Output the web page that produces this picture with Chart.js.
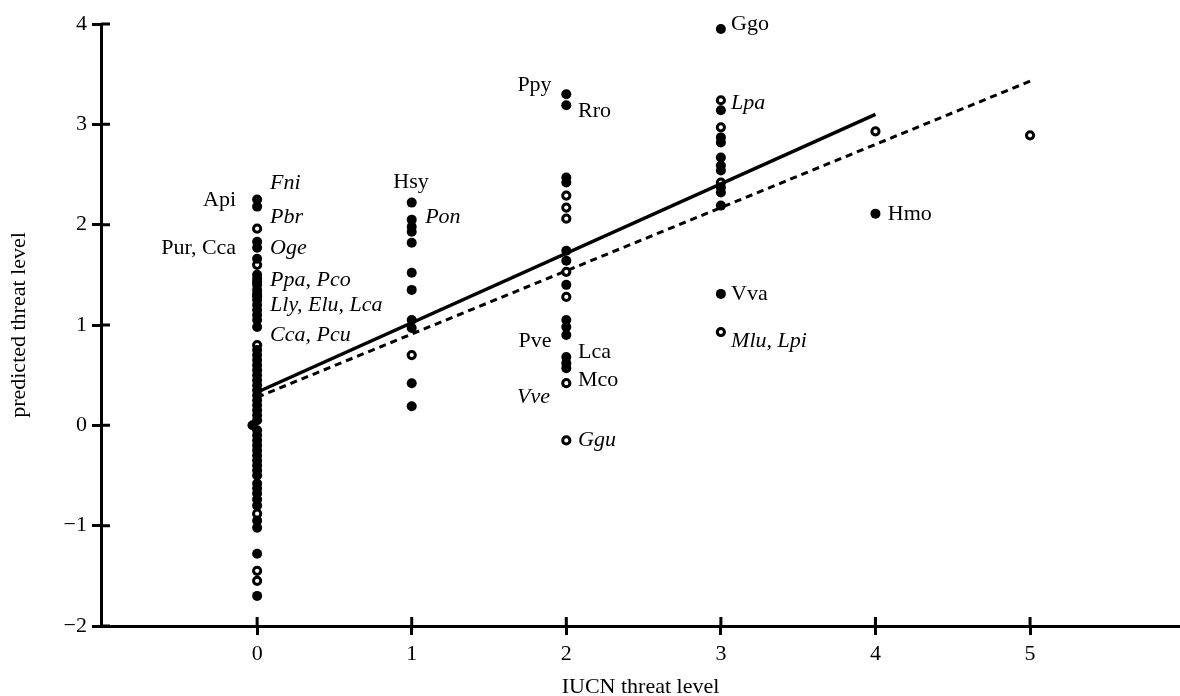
<!DOCTYPE html>
<html>
<head>
<meta charset="utf-8">
<script src="https://cdn.jsdelivr.net/npm/chart.js@4.4.1/dist/chart.umd.min.js"></script>
<style>
  html, body { margin: 0; padding: 0; background: #fff; }
  #wrap { width: 1180px; height: 696px; }
</style>
</head>
<body>
<div id="wrap"><canvas id="myChart" width="1180" height="696"></canvas></div>
<script>
function $(id) {
  return document.getElementById(id);
}

// IUCN threat levels (x categories) and y ticks
const levels = [0, 1, 2, 3, 4, 5];
const yTicks = [-2, -1, 0, 1, 2, 3, 4];

// predicted threat level per IUCN level, filled circles
const filled0 = [2.25, 2.18, 1.83, 1.77, 1.66, 1.50, 1.46, 1.40, 1.35, 1.31, 1.25, 1.20, 1.15, 1.10, 1.05, 0.98,
  0.75, 0.70, 0.65, 0.60, 0.55, 0.50, 0.45, 0.40, 0.35, 0.30, 0.25, 0.20, 0.15, 0.10, 0.05, -0.05, -0.10,
  -0.15, -0.20, -0.25, -0.30, -0.35, -0.40, -0.45, -0.50, -0.58, -0.63, -0.68, -0.74, -0.80, -0.95, -1.02,
  -1.28, -1.70];
const filled1 = [2.22, 2.05, 1.98, 1.93, 1.82, 1.52, 1.35, 1.05, 0.97, 0.42, 0.19];
const filled2 = [3.30, 3.19, 2.47, 2.42, 1.74, 1.64, 1.40, 1.05, 0.98, 0.90, 0.68, 0.62, 0.57];
const filled3 = [3.95, 3.14, 2.87, 2.82, 2.67, 2.59, 2.54, 2.37, 2.32, 2.19, 1.31];
const filled4 = [2.11];
const filled5 = [];

// open circles
const open0 = [1.96, 1.60, 1.43, 1.29, 0.80, -0.88, -1.45, -1.55];
const open1 = [0.70];
const open2 = [2.29, 2.17, 2.06, 1.53, 1.28, 0.42, -0.15];
const open3 = [3.24, 2.97, 2.42, 0.93];
const open4 = [2.93];
const open5 = [2.89];

// fitted lines
const solidX = [0, 4];
const solidY = [0.33, 3.10];
const dashX = [0, 5];
const dashY = [0.28, 3.43];

// species labels
const labelText = ["Api", "Fni", "Pbr", "Pur, Cca", "Oge", "Ppa, Pco", "Lly, Elu, Lca", "Cca, Pcu",
  "Hsy", "Pon", "Ppy", "Rro", "Pve", "Lca", "Mco", "Vve", "Ggu",
  "Ggo", "Lpa", "Vva", "Mlu, Lpi", "Hmo"];
const labelX = [-0.136, 0.084, 0.084, -0.136, 0.084, 0.084, 0.084, 0.084,
  0.996, 1.087, 1.905, 2.076, 1.905, 2.076, 2.076, 1.895, 2.076,
  3.066, 3.066, 3.066, 3.066, 4.08];
const labelY = [2.24, 2.41, 2.07, 1.77, 1.77, 1.45, 1.20, 0.90,
  2.42, 2.07, 3.39, 3.13, 0.84, 0.73, 0.45, 0.28, -0.15,
  4.00, 3.21, 1.31, 0.84, 2.10];
const labelAlign = ["right", "left", "left", "right", "left", "left", "left", "left",
  "center", "left", "right", "left", "right", "left", "left", "right", "left",
  "left", "left", "left", "left", "left"];
const labelItalic = [false, true, true, false, true, true, true, true,
  false, true, false, false, false, false, false, true, true,
  false, true, false, true, false];

const FONT = "'Liberation Serif', 'Times New Roman', serif";

function toPoints(columns) {
  let pts = [];
  columns.forEach((col, i) => {
    col.forEach(v => pts.push({ x: levels[i], y: v }));
  });
  return pts;
}

let filledPts = toPoints([filled0, filled1, filled2, filled3, filled4, filled5]);
filledPts.push({ x: -0.03, y: 0.0 });
let openPts = toPoints([open0, open1, open2, open3, open4, open5]);

// inner half of the axis ticks + species labels
const extras = {
  id: "extras",
  afterDraw(chart) {
    const c = chart.ctx;
    const xs = chart.scales.x;
    const ys = chart.scales.y;
    const area = chart.chartArea;
    c.save();
    c.strokeStyle = "#000";
    c.lineWidth = 3;
    c.beginPath();
    levels.forEach(v => {
      const px = xs.getPixelForValue(v);
      c.moveTo(px, area.bottom);
      c.lineTo(px, area.bottom - 9);
    });
    yTicks.forEach(v => {
      const py = ys.getPixelForValue(v);
      c.moveTo(area.left, py);
      c.lineTo(area.left + 9, py);
    });
    c.stroke();

    c.fillStyle = "#000";
    c.textBaseline = "middle";
    labelText.forEach((t, i) => {
      c.font = (labelItalic[i] ? "italic " : "") + "22px " + FONT;
      c.textAlign = labelAlign[i];
      c.fillText(t, xs.getPixelForValue(labelX[i]), ys.getPixelForValue(labelY[i]));
    });
    c.restore();
  }
};

window.onload = function() {
  const ctx = $("myChart").getContext("2d");
  new Chart(ctx, {
    type: "scatter",
    data: {
      datasets: [{
        data: solidX.map((x, i) => ({ x: x, y: solidY[i] })),
        showLine: true,
        borderColor: "#000",
        borderWidth: 3.5,
        pointRadius: 0
      }, {
        data: dashX.map((x, i) => ({ x: x, y: dashY[i] })),
        showLine: true,
        borderColor: "#000",
        borderWidth: 3,
        borderDash: [7, 5],
        pointRadius: 0
      }, {
        data: filledPts,
        backgroundColor: "#000",
        borderColor: "#000",
        borderWidth: 0,
        pointRadius: 5
      }, {
        data: openPts,
        backgroundColor: "#fff",
        borderColor: "#000",
        borderWidth: 3,
        pointRadius: 3.6
      }]
    },
    options: {
      responsive: false,
      animation: false,
      clip: false,
      layout: { autoPadding: false, padding: { top: 24, right: 0, left: 0, bottom: 0 } },
      plugins: {
        legend: { display: false },
        tooltip: { enabled: false }
      },
      scales: {
        x: {
          type: "linear",
          min: -1.01,
          max: 5.97,
          afterBuildTicks: s => { s.ticks = levels.map(v => ({ value: v })); },
          afterFit: s => { s.height = 70; },
          grid: { drawOnChartArea: false, tickLength: 9, lineWidth: 3, color: "#000" },
          border: { display: true, color: "#000", width: 3 },
          ticks: { color: "#000", padding: 0, font: { family: FONT, size: 22, lineHeight: 1.75 } },
          title: {
            display: true,
            text: "IUCN threat level",
            color: "#000",
            padding: { top: 0, bottom: -4 },
            font: { family: FONT, size: 22 }
          }
        },
        y: {
          type: "linear",
          min: -2,
          max: 4,
          afterBuildTicks: s => { s.ticks = yTicks.map(v => ({ value: v })); },
          afterFit: s => { s.width = 101; },
          grid: { drawOnChartArea: false, tickLength: 9, lineWidth: 3, color: "#000" },
          border: { display: true, color: "#000", width: 3 },
          ticks: {
            color: "#000",
            padding: 5,
            font: { family: FONT, size: 22 },
            callback: v => (v < 0 ? "\u2212" + Math.abs(v) : String(v))
          },
          title: {
            display: true,
            text: "predicted threat level",
            color: "#000",
            padding: { top: 6, bottom: 0 },
            font: { family: FONT, size: 22 }
          }
        }
      }
    },
    plugins: [extras]
  });
};
</script>
</body>
</html>
